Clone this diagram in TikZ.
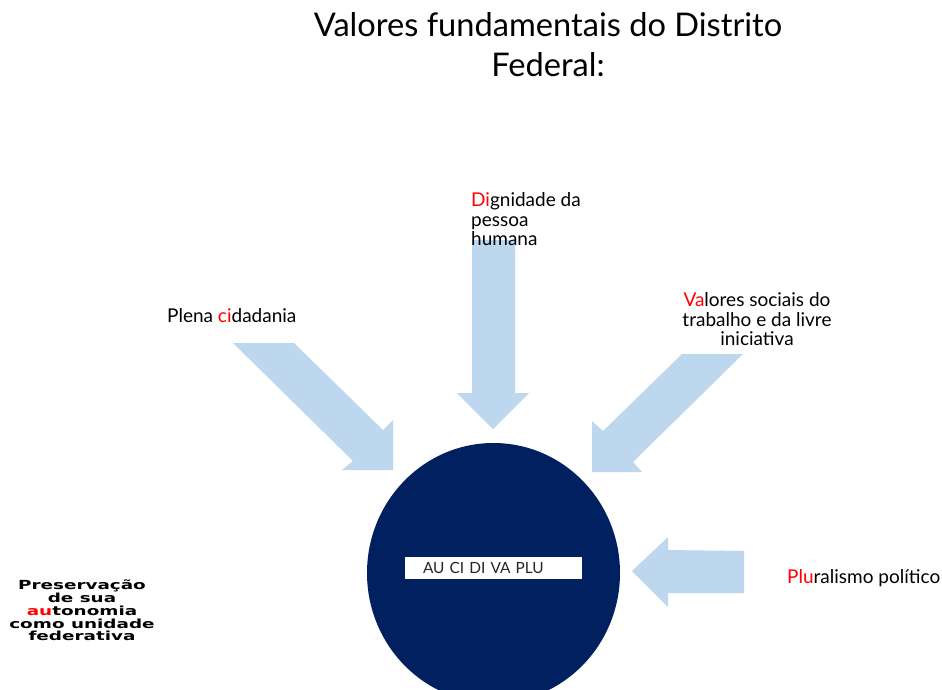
\documentclass[tikz,border=0pt]{standalone}
\usepackage{fontspec}
\usetikzlibrary{shapes.geometric}
\setmainfont{Lato}
\newfontfamily\widebold{DejaVu Sans}[FakeStretch=1.47]
\definecolor{navy}{HTML}{002060}
\definecolor{lightarrow}{HTML}{BDD7EE}
\definecolor{redhi}{HTML}{FF0000}
\begin{document}
\begin{tikzpicture}[x=1pt,y=-1pt,
  every node/.style={inner sep=0pt},
  blockarrow/.style={fill=lightarrow},
  titletext/.style={font=\fontsize{32.6}{40}\selectfont, text=black},
  lbltext/.style={font=\fontsize{19}{19.8}\selectfont, text=black},
  preserv/.style={font=\widebold\bfseries\fontsize{12.5}{12.7}\selectfont, text=black},
  hub/.style={ellipse, fill=navy, minimum width=253pt, minimum height=260pt},
  hubtag/.style={rectangle, fill=white, minimum height=22pt, text width=141pt,
    inner xsep=18pt, align=left, font=\fontsize{15.4}{17}\selectfont, text=black!85}]
\useasboundingbox (0,0) rectangle (942,689);
\clip (0,0) rectangle (942,689);
\fill[white] (0,0) rectangle (942,689);

% title
\node[titletext, anchor=north, align=center] (title) at (548,12) {Valores fundamentais do Distrito\\Federal:};

% central circle
\node[hub] (hub) at (493.5,573) {};
\node[hubtag] (tag) at (493.5,568) {AU CI DI VA PLU};

% arrows
\fill[blockarrow] (472,240) -- (515,240) -- (515,393) -- (529,393) -- (493,429) -- (457,393) -- (472,393) -- cycle;
\fill[blockarrow] (233,343) -- (294,343) -- (383,430) -- (393,420) -- (393,470) -- (342,470) -- (353,461) -- cycle;
\fill[blockarrow] (682,354) -- (743,354) -- (633,462) -- (642,472) -- (592,472) -- (592,421) -- (603,431) -- cycle;
\fill[blockarrow] (632,571) -- (668,537) -- (668,550) -- (744,551) -- (744,593) -- (668,593) -- (668,607) -- cycle;

% labels
\node[lbltext, anchor=north west, align=left] (dig) at (471,192) {\textcolor{redhi}{Di}gnidade da\\pessoa\\humana};
\node[lbltext, anchor=base west] (plena) at (167,322) {Plena \textcolor{redhi}{ci}dadania};
\node[lbltext, anchor=north, align=center] (val) at (757,292) {\textcolor{redhi}{Va}lores sociais do\\trabalho e da livre\\iniciativa};
\node[lbltext, anchor=base west] (plu) at (787,583) {\textcolor{redhi}{Plu}ralismo político};
\node[preserv, anchor=north, align=center] (pres) at (82,580) {Preservação\\de sua\\\textcolor{redhi}{au}tonomia\\como unidade\\federativa};
\end{tikzpicture}
\end{document}
